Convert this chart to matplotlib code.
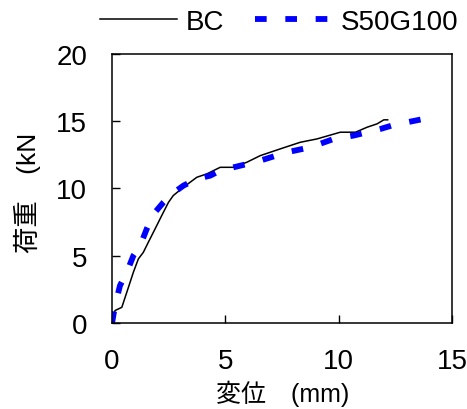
import matplotlib
matplotlib.use('Agg')
import matplotlib.pyplot as plt

plt.rcParams['font.family'] = ['Liberation Sans Narrow', 'Liberation Sans', 'Noto Sans CJK JP', 'DejaVu Sans']

# BC 曲線
bc_x = [0.0, 0.13, 0.43, 0.65, 0.94, 1.16, 1.38, 1.6, 1.9, 2.19, 2.49, 2.7, 3.15, 3.74,
        4.18, 4.77, 5.36, 5.95, 6.54, 7.42, 8.3, 9.04, 10.07, 10.74, 11.25, 11.69, 11.99, 12.16]
bc_y = [0.0, 0.92, 1.16, 2.28, 3.77, 4.76, 5.25, 6.0, 7.0, 7.98, 8.97, 9.47, 10.09, 10.83,
        11.08, 11.57, 11.57, 11.95, 12.44, 12.94, 13.43, 13.68, 14.18, 14.18, 14.55, 14.8, 15.1, 15.1]

# S50G100 曲線
s_x = [0.0, 0.13, 0.35, 0.65, 0.94, 1.24, 1.53, 1.83, 2.27, 2.64, 3.15, 3.74, 4.33, 4.77,
       5.8, 6.54, 7.72, 8.75, 9.78, 10.66, 11.84, 12.43, 13.61]
s_y = [0.0, 1.29, 2.78, 3.77, 5.0, 5.75, 6.99, 8.1, 8.97, 9.59, 10.21, 10.71, 10.95, 11.33,
       11.75, 12.07, 12.69, 13.06, 13.68, 13.93, 14.42, 14.72, 15.12]

x_ticks = [0, 5, 10, 15]
y_ticks = [0, 5, 10, 15, 20]

fig = plt.figure(figsize=(4.67, 4.10), dpi=100)
ax = fig.add_axes([0.240, 0.210, 0.728, 0.656])

ax.plot(bc_x, bc_y, color='black', linewidth=1.1, label='BC')
ax.plot(s_x, s_y, color='#0000ff', linewidth=4.2, linestyle=(0, (2.0, 3.2)), label='S50G100')

ax.set_xlim(0, 15)
ax.set_ylim(0, 20)
ax.set_xticks(x_ticks)
ax.set_yticks(y_ticks)
ax.tick_params(direction='in', length=6, width=1, labelsize=20)
ax.tick_params(axis='x', pad=18)
ax.tick_params(axis='y', pad=18)
for sp in ax.spines.values():
    sp.set_linewidth(1.1)

fig.text(283 / 467, 1 - 394 / 410, '変位　(mm)', fontsize=18, ha='center', va='center')
fig.text(27 / 467, 1 - 193 / 410, '荷重　(kN', fontsize=19, ha='center', va='center', rotation=90)

fig.legend(handles=ax.get_lines(), loc='center', bbox_to_anchor=(279 / 467, 1 - 23 / 410),
           ncol=2, frameon=False, fontsize=20, handlelength=2.8, columnspacing=1.1,
           handletextpad=0.3, borderpad=0, borderaxespad=0)

fig.savefig('out.png', dpi=100)
